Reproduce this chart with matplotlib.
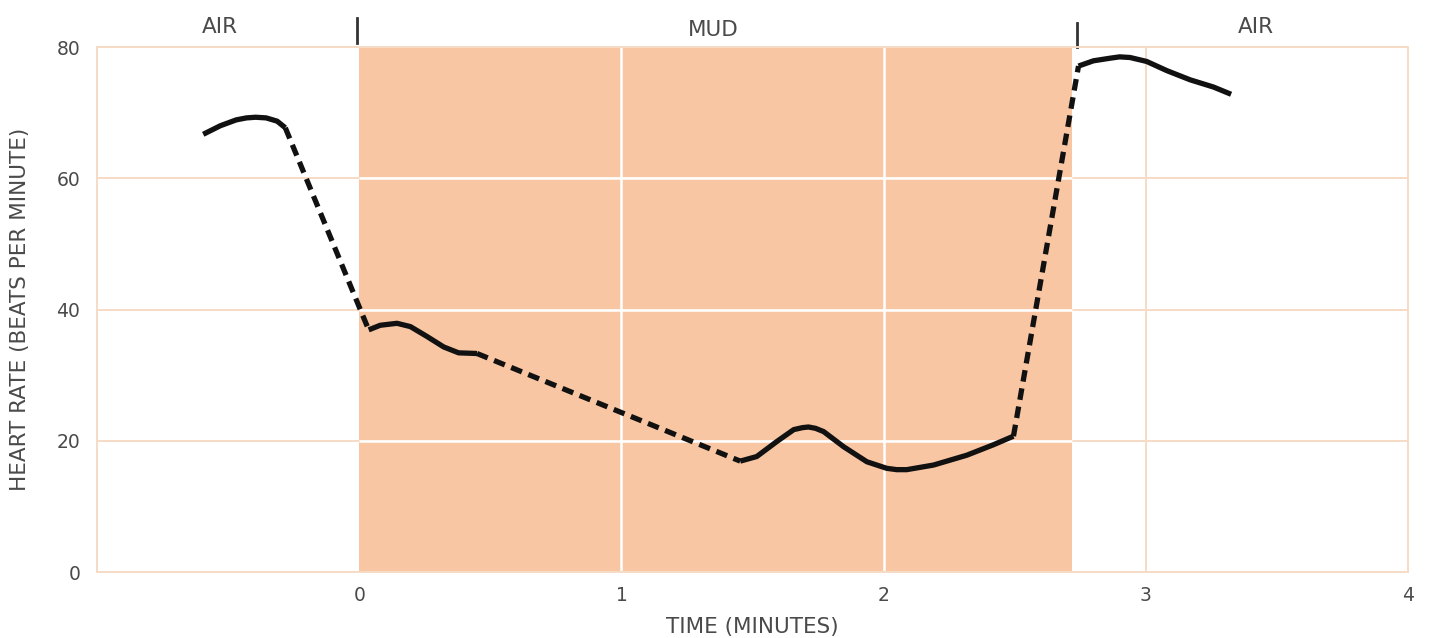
import matplotlib
matplotlib.use("Agg")
import matplotlib.pyplot as plt

plt.rcParams['font.family'] = ['DejaVu Sans']

# Heart-rate trace, split into measured (solid) and inferred (dashed) pieces
air1_t = [-0.595, -0.530, -0.469, -0.430, -0.395, -0.355, -0.313, -0.282]
air1_hr = [66.7, 68.0, 68.9, 69.2, 69.3, 69.2, 68.7, 67.7]

mud1_t = [0.036, 0.080, 0.144, 0.195, 0.258, 0.322, 0.379, 0.449]
mud1_hr = [36.9, 37.6, 37.9, 37.4, 35.9, 34.3, 33.4, 33.3]

mud2_t = [1.453, 1.516, 1.593, 1.657, 1.690, 1.713, 1.740, 1.771, 1.847, 1.936,
          2.012, 2.050, 2.088, 2.190, 2.317, 2.419, 2.495]
mud2_hr = [16.9, 17.6, 19.9, 21.7, 22.0, 22.1, 21.9, 21.4, 19.1, 16.8,
           15.8, 15.6, 15.6, 16.3, 17.8, 19.4, 20.7]

air2_t = [2.743, 2.800, 2.864, 2.900, 2.940, 3.003, 3.080, 3.169, 3.258, 3.325]
air2_hr = [77.1, 77.9, 78.3, 78.5, 78.4, 77.8, 76.4, 75.0, 73.9, 72.8]

# Phase boundaries (minutes) and labels
mud_start, mud_end = 0.0, 2.72
phase_labels = ["AIR", "MUD", "AIR"]
phase_label_t = [-0.53, 1.35, 3.42]
boundary_marks = [-0.01, 2.738]

x_ticks = [0, 1, 2, 3, 4]
y_ticks = [0, 20, 40, 60, 80]

mud_color = "#f8c6a3"
pale = "#f6dcc6"
text_color = "#4a4a4a"
ink = "#111111"

fig = plt.figure(figsize=(14.31, 6.38), dpi=100)
ax = fig.add_axes([0.0678, 0.1034, 0.9162, 0.8229])
ax.set_xlim(-1, 4)
ax.set_ylim(0, 80)

ax.axvspan(mud_start, mud_end, color=mud_color, lw=0, zorder=0)

# grid: pale on white, white over the mud band
for y in [20, 40, 60]:
    ax.axhline(y, color=pale, lw=1.4, zorder=1)
    ax.hlines(y, mud_start, mud_end, color="white", lw=1.8, zorder=1.5)
for x in [1, 2]:
    ax.axvline(x, color="white", lw=1.8, zorder=1.5)
ax.axvline(3, color=pale, lw=1.4, zorder=1)

for s in ax.spines.values():
    s.set_color(pale)
    s.set_linewidth(1.4)

lw = 3.8
solid_kw = dict(color=ink, lw=lw, solid_capstyle="butt", solid_joinstyle="round", zorder=5)
dash_kw = dict(color=ink, lw=lw, dashes=(2.2, 1.3), dash_capstyle="butt", zorder=5)

ax.plot(air1_t, air1_hr, **solid_kw)
ax.plot(mud1_t, mud1_hr, **solid_kw)
ax.plot(mud2_t, mud2_hr, **solid_kw)
ax.plot(air2_t, air2_hr, **solid_kw)

# dashed links between measured pieces
ax.plot([air1_t[-1], mud1_t[0]], [air1_hr[-1], mud1_hr[0]], **dash_kw)
ax.plot([mud1_t[-1], mud2_t[0]], [mud1_hr[-1], mud2_hr[0]], **dash_kw)
ax.plot([mud2_t[-1], air2_t[0]], [mud2_hr[-1], air2_hr[0]], **dash_kw)

# boundary marks above the frame
ax.plot([boundary_marks[0]] * 2, [80.6, 84.4], color="#333333", lw=2.0, clip_on=False)
ax.plot([boundary_marks[1]] * 2, [80.0, 83.7], color="#333333", lw=2.0, clip_on=False)

for lab, t, yy in zip(phase_labels, phase_label_t, [83.0, 82.6, 83.0]):
    ax.text(t, yy, lab, ha="center", va="center", fontsize=15.5, color=text_color,
            clip_on=False)

ax.set_xticks(x_ticks)
ax.set_yticks(y_ticks)
ax.tick_params(length=0, labelsize=13.5, labelcolor=text_color)
ax.tick_params(axis="y", pad=12)
ax.tick_params(axis="x", pad=10)

ax.set_xlabel("TIME (MINUTES)", fontsize=15.5, color=text_color, labelpad=9)
ax.set_ylabel("HEART RATE (BEATS PER MINUTE)", fontsize=15.5, color=text_color)
ax.yaxis.set_label_coords(-0.051, 0.5)

fig.savefig("out.png", dpi=100, facecolor="white")
